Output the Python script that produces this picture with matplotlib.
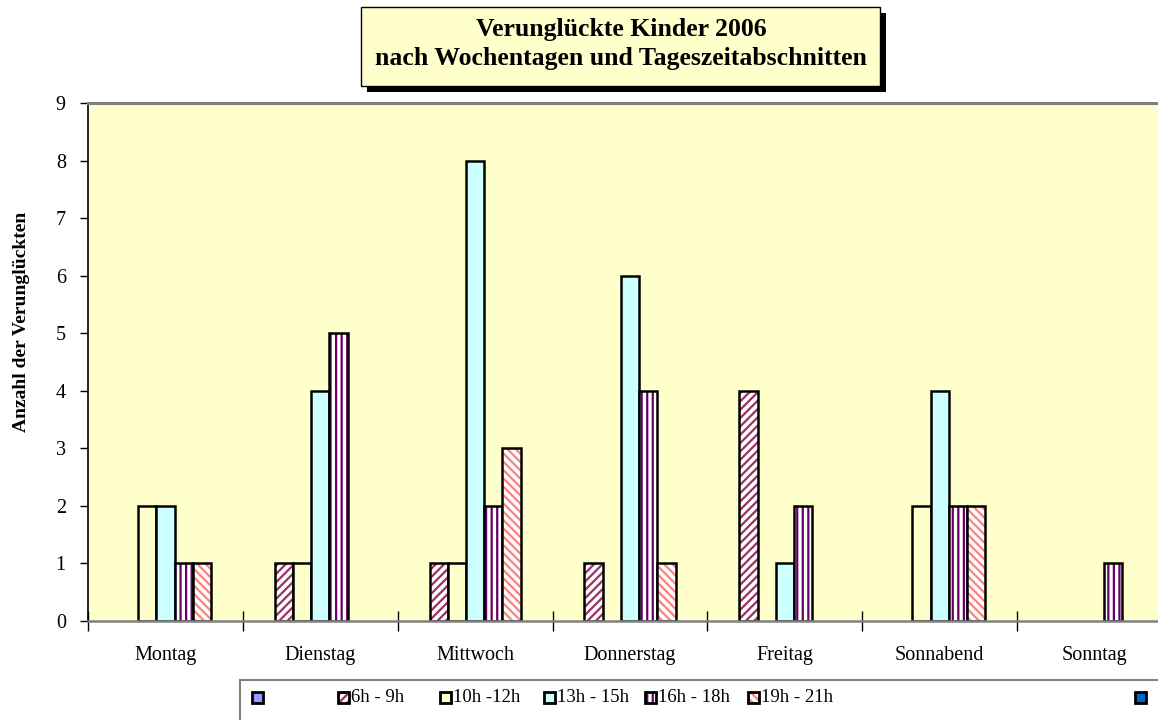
import matplotlib
matplotlib.use('Agg')
import matplotlib.pyplot as plt
from matplotlib.patches import Rectangle
import numpy as np

# data
days = ['Montag', 'Dienstag', 'Mittwoch', 'Donnerstag', 'Freitag', 'Sonnabend', 'Sonntag']
series_labels = ['', '6h - 9h', '10h -12h', '13h - 15h', '16h - 18h', '19h - 21h', '']
s_blank1 = [0, 0, 0, 0, 0, 0, 0]
s_06_09 = [0, 1, 1, 1, 4, 0, 0]
s_10_12 = [2, 1, 1, 0, 0, 2, 0]
s_13_15 = [2, 4, 8, 6, 1, 4, 0]
s_16_18 = [1, 5, 2, 4, 2, 2, 1]
s_19_21 = [1, 0, 3, 1, 0, 2, 0]
s_blank2 = [0, 0, 0, 0, 0, 0, 0]
all_series = [s_blank1, s_06_09, s_10_12, s_13_15, s_16_18, s_19_21, s_blank2]

# styles (face, hatch colour, hatch)
faces = ['#9999FF', 'white', '#FFFFCC', '#CCFFFF', 'white', 'white', '#0066CC']
hcols = ['#9999FF', '#993366', '#FFFFCC', '#CCFFFF', '#660066', '#FF8080', '#0066CC']
hatches = [None, '////', None, None, '|||', '\\\\\\\\', None]

plt.rcParams['font.family'] = ['Liberation Serif', 'DejaVu Serif']
plt.rcParams['hatch.linewidth'] = 1.6

W, H = 1158, 720
fig = plt.figure(figsize=(W / 100, H / 100), dpi=100)

def fx(x):
    return x / W

def fy(y):
    return 1 - y / H

left, right, top, bottom = 88, 1172, 103, 621
ax = fig.add_axes([fx(left), fy(bottom), fx(right - left), fy(top) - fy(bottom)])
ax.set_facecolor('#FFFFCC')

n = len(all_series)
w = 1 / 8.5
x = np.arange(len(days))
for i, vals in enumerate(all_series):
    vals = np.array(vals)
    pos = x + (i - (n - 1) / 2) * w
    m = vals > 0
    if not m.any():
        continue
    ax.bar(pos[m], vals[m], w, color=faces[i], edgecolor=hcols[i], hatch=hatches[i], linewidth=0)
    ax.bar(pos[m], vals[m], w, fill=False, edgecolor='black', linewidth=1.8)

ax.set_xlim(-0.5, len(days) - 0.5)
ax.set_ylim(0, 9)
ax.set_yticks(range(10))
ax.tick_params(axis='y', direction='out', length=6, width=1, pad=10, labelsize=14.5)

ax.set_xticks(np.arange(len(days) + 1) - 0.5)
ax.set_xticklabels([])
ax.set_xticks(x, minor=True)
ax.set_xticklabels(days, minor=True)
ax.tick_params(axis='x', which='major', direction='inout', length=14, width=1)
ax.tick_params(axis='x', which='minor', length=0, pad=18, labelsize=14.5)

ax.spines['left'].set_color('black')
ax.spines['left'].set_linewidth(1.2)
ax.spines['bottom'].set_color('#808080')
ax.spines['bottom'].set_linewidth(1.8)
ax.spines['top'].set_color('#808080')
ax.spines['top'].set_linewidth(2.2)
ax.spines['right'].set_visible(False)

fig.text(fx(22), fy(322), 'Anzahl der Verunglückten', rotation=90, ha='center', va='center',
         fontsize=14, fontweight='bold')

# title box with shadow
fig.patches.append(Rectangle((fx(367), fy(92)), fx(880 - 361), fy(7) - fy(86),
                             transform=fig.transFigure, facecolor='black', edgecolor='none'))
fig.patches.append(Rectangle((fx(361), fy(86)), fx(880 - 361), fy(7) - fy(86),
                             transform=fig.transFigure, facecolor='#FFFFCC', edgecolor='black', linewidth=1))
fig.text(fx(621), fy(44), 'Verunglückte Kinder 2006\nnach Wochentagen und Tageszeitabschnitten',
         ha='center', va='center', fontsize=18.5, fontweight='bold', linespacing=1.3)

# legend
fig.patches.append(Rectangle((fx(240), fy(740)), fx(950), fy(680) - fy(740),
                             transform=fig.transFigure, facecolor='white', edgecolor='#808080', linewidth=1.5))
leg_x = [257, 343, 445, 549, 650, 753, 1140]
for i, lab in enumerate(series_labels):
    cx, cy = leg_x[i], 697
    fig.patches.append(Rectangle((fx(cx - 5.5), fy(cy + 5.5)), fx(11), fy(cy - 5.5) - fy(cy + 5.5),
                                 transform=fig.transFigure, facecolor=faces[i], edgecolor=hcols[i],
                                 hatch=hatches[i], linewidth=0))
    fig.patches.append(Rectangle((fx(cx - 5.5), fy(cy + 5.5)), fx(11), fy(cy - 5.5) - fy(cy + 5.5),
                                 transform=fig.transFigure, fill=False, edgecolor='black', linewidth=2))
    if lab:
        fig.text(fx(cx + 8), fy(cy), lab, ha='left', va='center', fontsize=13.5)

fig.savefig('out.png', dpi=100)
